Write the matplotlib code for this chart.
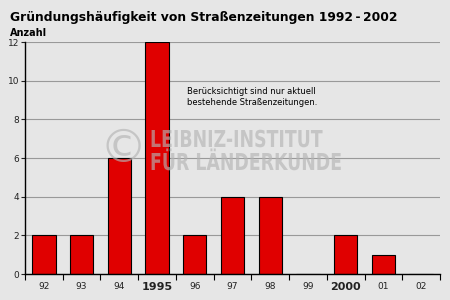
import numpy as np
import matplotlib
matplotlib.use("Agg")
from matplotlib import pyplot as plt
from matplotlib.textpath import TextPath
from matplotlib.patches import PathPatch
from matplotlib.font_manager import FontProperties
from matplotlib.transforms import Affine2D, IdentityTransform

# data
years = ["92", "93", "94", "1995", "96", "97", "98", "99", "2000", "01", "02"]
counts = [2, 2, 6, 12, 2, 4, 4, 0, 2, 1, 0]
bold_years = ["1995", "2000"]

bg = "#e6e6e6"
fig = plt.figure(figsize=(4.5, 3), dpi=100, facecolor=bg)
ax = fig.add_axes([25/450, 26/300, 415/450, 232/300], facecolor=bg)

x = np.arange(len(years))
ax.bar(x, counts, width=0.62, color="#e00000", edgecolor="black", linewidth=0.8, zorder=3)

ax.set_xlim(-0.5, len(years) - 0.5)
ax.set_ylim(0, 12)
ax.set_yticks(range(0, 13, 2))
ax.yaxis.grid(True, color="#999999", linewidth=0.8, zorder=0)
ax.tick_params(axis="y", labelsize=6.5, length=3, width=0.8, pad=1, colors="#222222")

# tick marks at category boundaries, labels centered
ax.set_xticks(np.arange(-0.5, len(years), 1), minor=True)
ax.set_xticks(x)
ax.set_xticklabels(years)
ax.tick_params(axis="x", which="major", length=0, labelsize=6.5, pad=6, colors="#222222")
ax.tick_params(axis="x", which="minor", length=4, width=0.8, direction="out")
for lbl in ax.get_xticklabels():
    if lbl.get_text() in bold_years:
        lbl.set_fontweight("bold")
        lbl.set_fontsize(8)

for s in ["top", "right"]:
    ax.spines[s].set_visible(False)
for s in ["left", "bottom"]:
    ax.spines[s].set_linewidth(1.0)
    ax.spines[s].set_zorder(4)

fig.text(10/450, 1 - 17/300, "Gründungshäufigkeit von Straßenzeitungen 1992\u2009-\u20092002",
         fontsize=8.9, fontweight="bold", va="center", ha="left")
fig.text(10/450, 1 - 33/300, "Anzahl", fontsize=7, fontweight="bold", va="center", ha="left")

ax.text(3.8, 9.15, "Berücksichtigt sind nur aktuell\nbestehende Straßenzeitungen.",
        fontsize=6, va="center", ha="left", linespacing=1.2, zorder=5)

# watermark (condensed bold lettering, drawn in pixel coords)
wm = "#b4b4b4"
bold = FontProperties(family="DejaVu Sans", weight="bold")
for line, base in [("LEIBNIZ-INSTITUT", 153), ("FÜR LÄNDERKUNDE", 130)]:
    tp = TextPath((0, 0), line, size=23.3, prop=bold)
    tr = Affine2D().scale(0.745, 1).translate(150, base) + IdentityTransform()
    fig.add_artist(PathPatch(tp, transform=tr, facecolor=wm, edgecolor="none",
                             alpha=0.65, zorder=10))
fig.text(123/450, 1 - 150/300, "©", fontsize=34, color=wm, alpha=0.65,
         va="center", ha="center", zorder=10)

fig.savefig("out.png", dpi=100, facecolor=bg)
